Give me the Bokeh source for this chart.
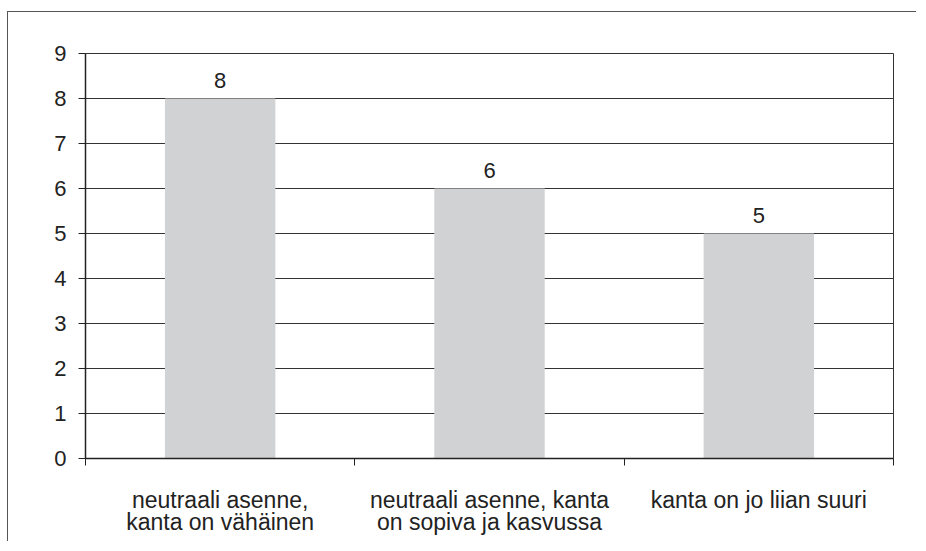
from bokeh.plotting import figure
from bokeh.models import Range1d, FixedTicker, LabelSet, ColumnDataSource
from bokeh.core.properties import value
from bokeh.embed import file_html
from bokeh.resources import INLINE

categories = ["neutraali asenne,\nkanta on vähäinen",
              "neutraali asenne, kanta\non sopiva ja kasvussa",
              "kanta on jo liian suuri"]
values = [8, 6, 5]
y_ticks = [0, 1, 2, 3, 4, 5, 6, 7, 8, 9]

FONT = "Liberation Sans"
FS = "22px"
TXT = "#222222"

xs = [i + 0.5 for i in range(len(categories))]
src = ColumnDataSource(dict(x=xs, top=values, label=[str(v) for v in values]))

p = figure(frame_width=808, frame_height=405,
           min_border_left=77, min_border_right=24,
           min_border_top=41, min_border_bottom=84,
           x_range=Range1d(0, len(categories)), y_range=Range1d(0, max(y_ticks)),
           output_backend="svg", toolbar_location=None, tools="")
p.styles = {"box-shadow": "-1px -1px 0px 0px #555555",
            "margin-top": "12px", "margin-left": "8px"}

p.vbar(x="x", top="top", width=0.41, bottom=0, source=src,
       fill_color="#d1d2d4", line_color=None)

labels = LabelSet(x="x", y="top", text="label", source=src, text_align="center",
                  text_baseline="alphabetic", y_offset=11,
                  text_font=value(FONT), text_font_size=FS, text_color=TXT)
p.add_layout(labels)

p.outline_line_color = "#333333"
p.outline_line_width = 1

p.xaxis.ticker = FixedTicker(ticks=xs, minor_ticks=list(range(len(categories) + 1)))
p.xaxis.major_label_overrides = {x: c for x, c in zip(xs, categories)}
p.xaxis.major_tick_line_color = None
p.xaxis.major_tick_out = 0
p.xaxis.major_tick_in = 0
p.xaxis.minor_tick_out = 7
p.xaxis.minor_tick_in = 0
p.xaxis.minor_tick_line_color = "#222222"
p.xaxis.axis_line_color = "#222222"
p.xaxis.axis_line_width = 1.5
p.xaxis.major_label_standoff = 21
p.xaxis.major_label_text_font = FONT
p.xaxis.major_label_text_font_size = "23px"
p.xaxis.major_label_text_line_height = 0.88
p.xaxis.major_label_text_color = TXT

p.yaxis.ticker = FixedTicker(ticks=y_ticks)
p.yaxis.minor_tick_line_color = None
p.yaxis.major_tick_out = 7
p.yaxis.major_tick_in = 0
p.yaxis.major_tick_line_color = "#222222"
p.yaxis.axis_line_color = "#222222"
p.yaxis.axis_line_width = 1.5
p.yaxis.major_label_standoff = 12
p.yaxis.major_label_text_font = FONT
p.yaxis.major_label_text_font_size = FS
p.yaxis.major_label_text_color = TXT

p.xgrid.grid_line_color = None
p.ygrid.ticker = FixedTicker(ticks=y_ticks)
p.ygrid.grid_line_color = "#333333"

open("out.html", "w").write(file_html(p, INLINE))
